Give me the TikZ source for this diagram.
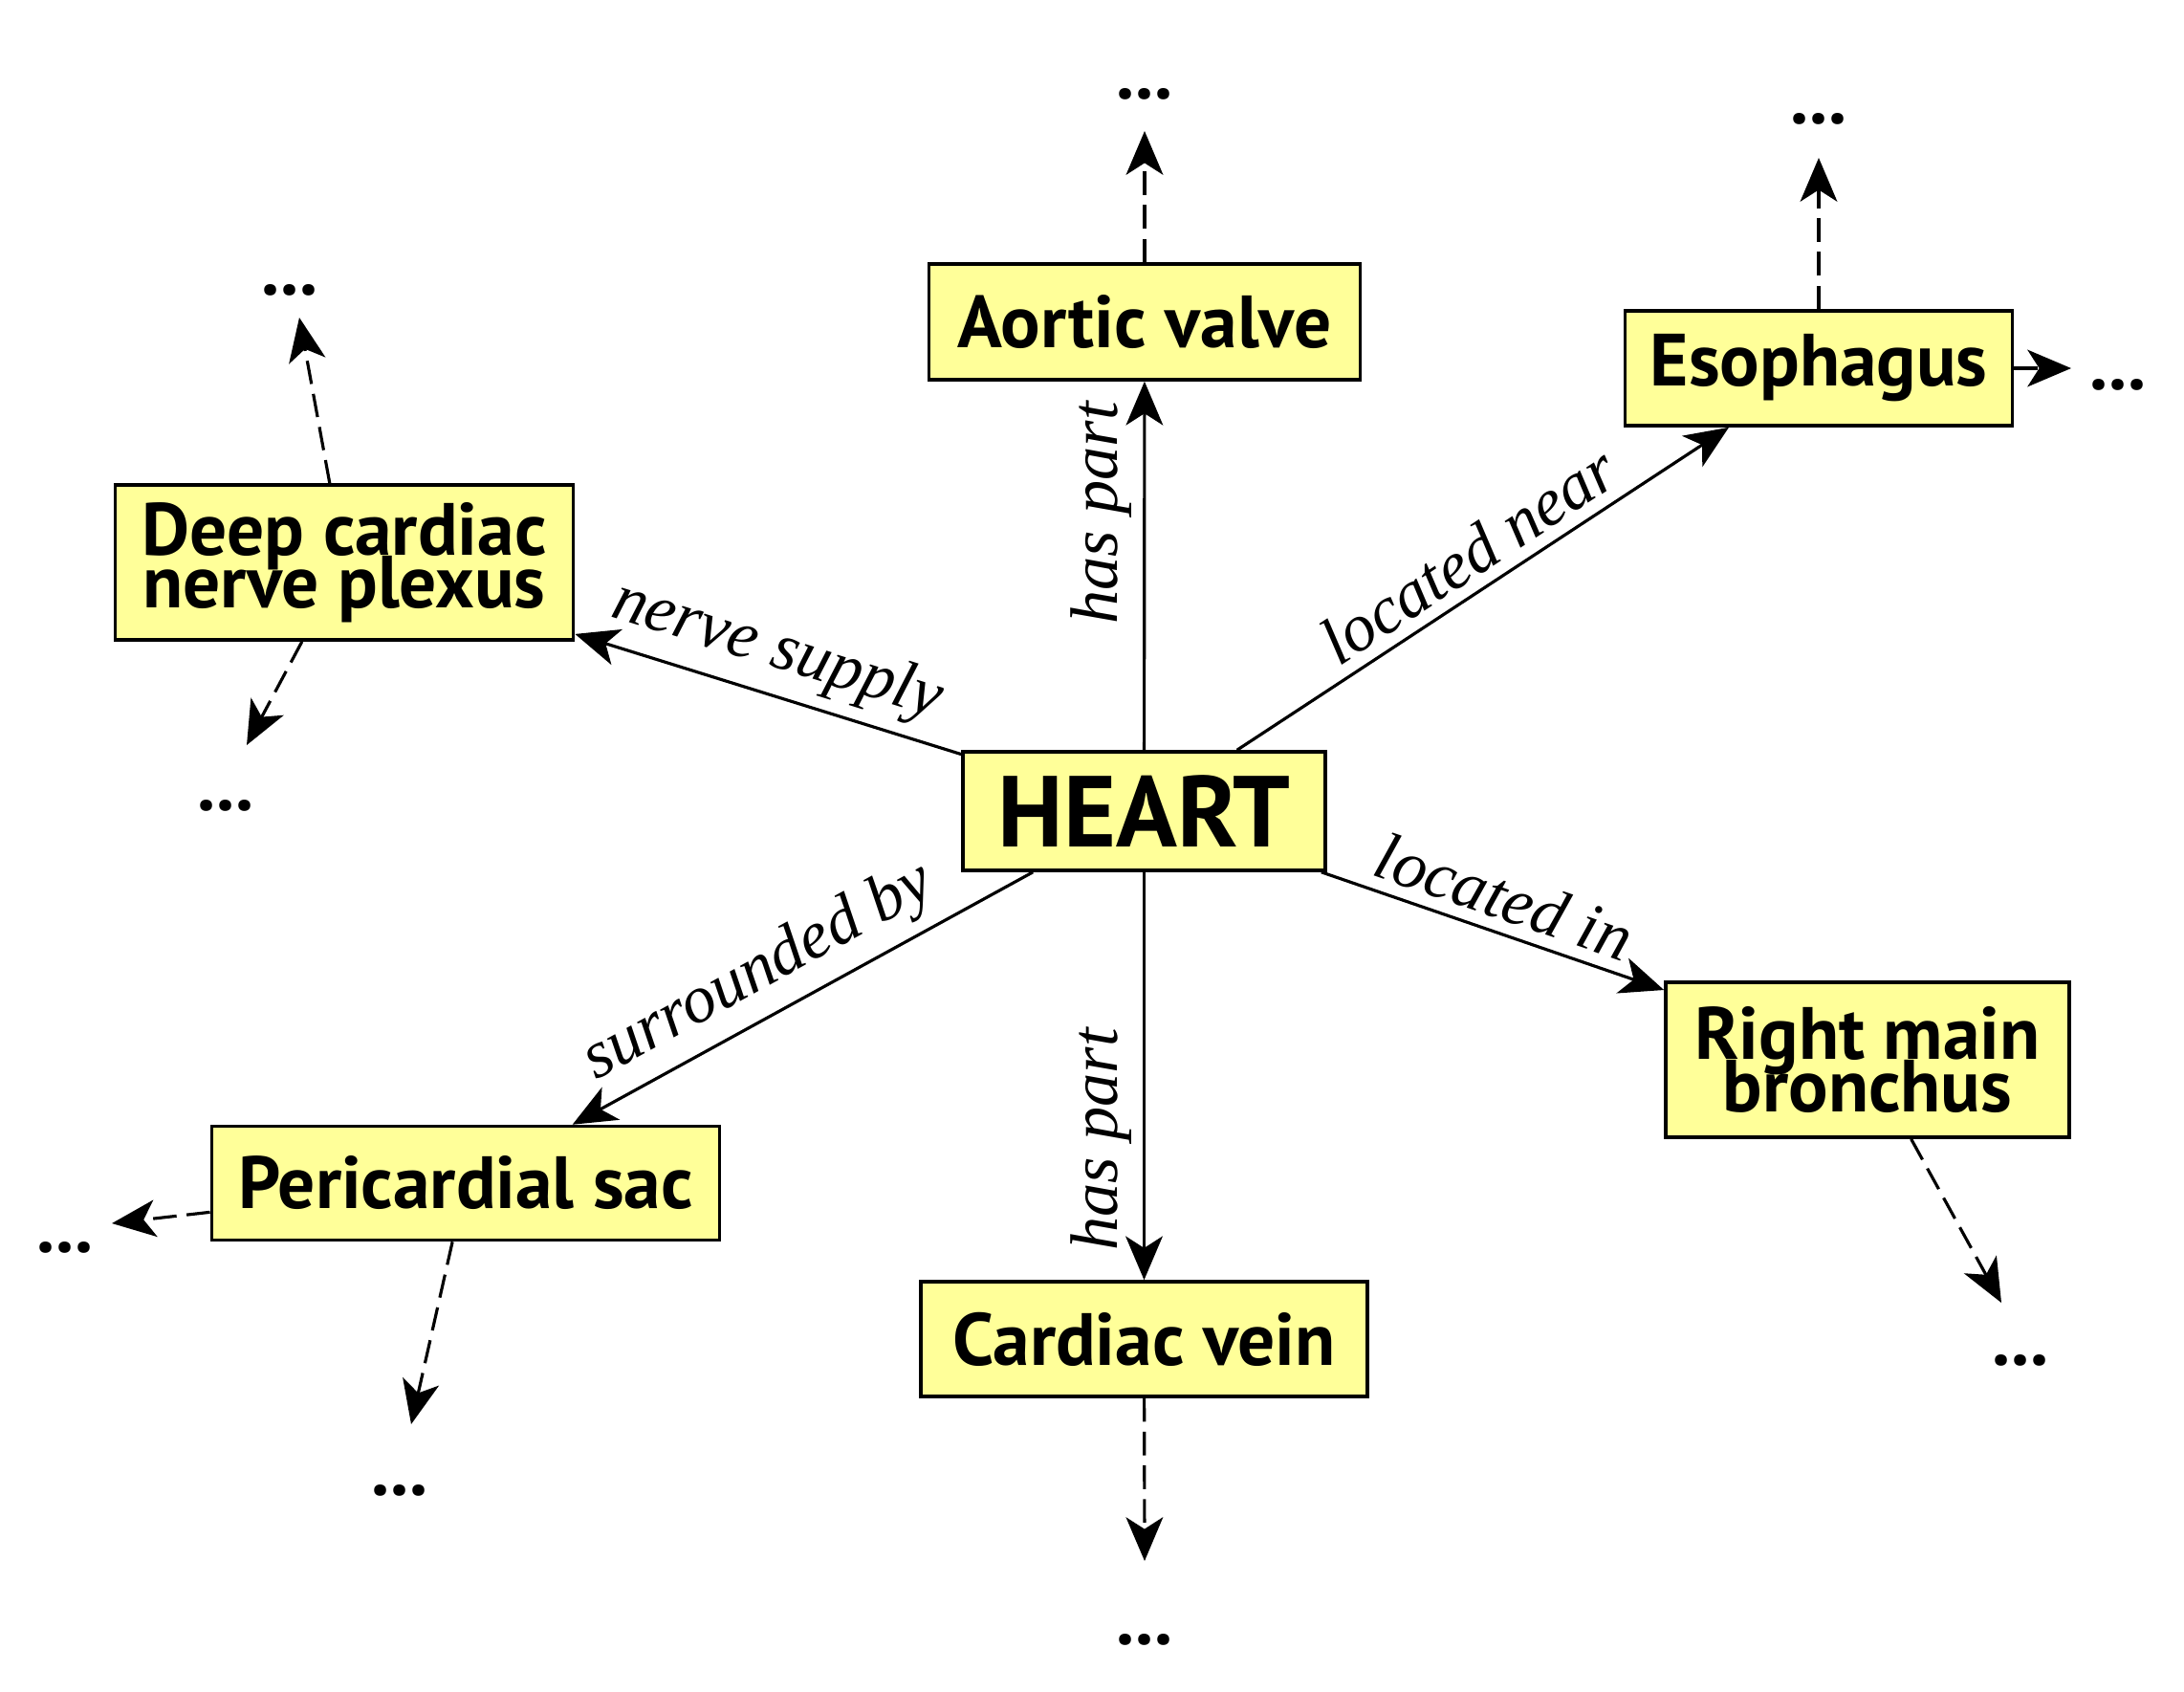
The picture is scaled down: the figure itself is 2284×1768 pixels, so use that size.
\documentclass[tikz,border=0pt]{standalone}
\usepackage{fontspec}
\newfontfamily\nodefont{PT Sans}
\newfontfamily\labelfont{Liberation Serif}
\usetikzlibrary{arrows.meta}
\definecolor{boxfill}{RGB}{255,255,153}
\begin{document}
\begin{tikzpicture}[x=0.01cm, y=-0.01cm,
  concept/.style={draw=black, line width=1pt, fill=boxfill, align=center, inner sep=0pt,
    font={\nodefont\bfseries\fontsize{22pt}{15.5pt}\selectfont\lineskiplimit=-50pt}},
  hub/.style={concept, font={\nodefont\bfseries\fontsize{30pt}{32pt}\selectfont}},
  rel/.style={-{Stealth[length=13pt,width=11pt,inset=3.5pt]}, line width=0.9pt},
  more/.style={rel, dash pattern=on 7pt off 3pt},
  lbl/.style={font={\labelfont\itshape\fontsize{20pt}{24pt}\selectfont}},
  dotsnode/.style={inner sep=0pt, font={\nodefont\bfseries\fontsize{22pt}{24pt}\selectfont}}
]
\useasboundingbox (0,0) rectangle (2284,1768);

% concept nodes
\node[hub, minimum width=3.79cm, minimum height=1.24cm] (heart) at (1196.5,848) {HEART};
\node[concept, minimum width=4.51cm, minimum height=1.21cm] (aortic) at (1197,336.5) {Aortic valve};
\node[concept, minimum width=4.05cm, minimum height=1.20cm] (esoph) at (1902,385) {Esophagus};
\node[concept, minimum width=4.79cm, minimum height=1.62cm] (deep) at (360,588) {Deep cardiac\\nerve plexus};
\node[concept, minimum width=4.22cm, minimum height=1.62cm] (rmb) at (1953,1108) {Right main\\bronchus};
\node[concept, minimum width=5.31cm, minimum height=1.19cm] (peri) at (487,1237) {Pericardial sac};
\node[concept, minimum width=4.67cm, minimum height=1.20cm] (vein) at (1196.5,1400) {Cardiac vein};

% relations
\draw[rel] (heart) -- node[lbl, pos=0.643, rotate=90, anchor=south] (l1) {has part} (aortic);
\draw[rel] (heart) -- node[lbl, pos=0.656, rotate=90, anchor=south] (l2) {has part} (vein);
\draw[rel] (heart) -- node[lbl, pos=0.51, sloped, above] (l3) {located near} (esoph);
\draw[rel] (heart) -- node[lbl, pos=0.51, sloped, above] (l4) {nerve supply} (deep);
\draw[rel] (heart) -- node[lbl, pos=0.50, sloped, above] (l5) {located in} (rmb);
\draw[rel] (heart) -- node[lbl, pos=0.55, sloped, above] (l6) {surrounded by} (peri);

% continuation marks
\node[dotsnode] (dAv) at (1197,98) {...};
\node[dotsnode] (dEu) at (1902,124) {...};
\node[dotsnode] (dEr) at (2215,402) {...};
\node[dotsnode] (dDu) at (303,303) {...};
\node[dotsnode] (dDd) at (236,842) {...};
\node[dotsnode] (dRd) at (2113,1422) {...};
\node[dotsnode] (dPl) at (68,1304) {...};
\node[dotsnode] (dPd) at (418,1558) {...};
\node[dotsnode] (dCd) at (1197,1714) {...};

\coordinate (tAv) at (1197,137);
\coordinate (tEu) at (1902,165);
\coordinate (tEr) at (2166,385);
\coordinate (tDu) at (313,332);
\coordinate (tDd) at (258,779);
\coordinate (tRd) at (2093,1362);
\coordinate (tPl) at (117,1279);
\coordinate (tPd) at (430,1489);
\coordinate (tCd) at (1197,1632);

\draw[more] (aortic) -- (tAv);
\draw[more] (esoph) -- (tEu);
\draw[more] (esoph) -- (tEr);
\draw[more] (deep) -- (tDu);
\draw[more] (deep) -- (tDd);
\draw[more] (rmb) -- (tRd);
\draw[more] (peri) -- (tPl);
\draw[more] (peri) -- (tPd);
\draw[more] (vein) -- (tCd);
\end{tikzpicture}
\end{document}
